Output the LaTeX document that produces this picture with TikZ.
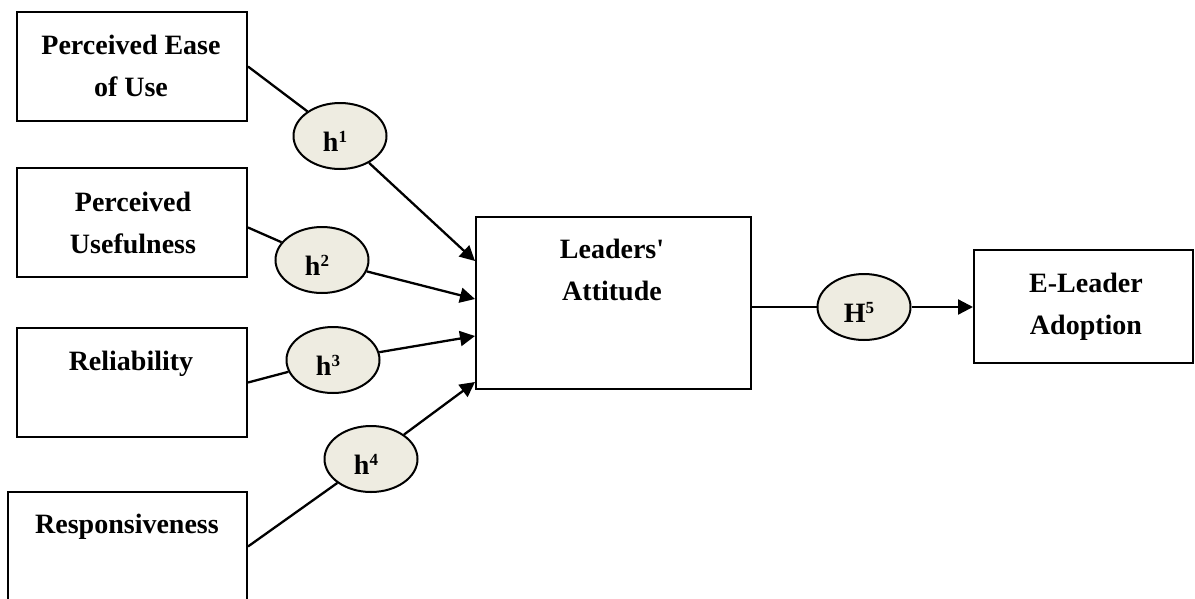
\documentclass[tikz,border=0pt]{standalone}
\usepackage{fontspec}
\setmainfont{Liberation Serif}[Ligatures=TeXOff]
\usetikzlibrary{arrows.meta,calc,shapes.geometric}
\definecolor{hypfill}{RGB}{238,236,225}
\newcommand{\hypo}[2]{#1\raisebox{9pt}{\fontsize{17}{17}\selectfont #2}\kern10pt}
\begin{document}
\begin{tikzpicture}[x=1pt,y=-1pt,
  box/.style={draw,line width=2pt,inner sep=0pt,minimum width=230pt,minimum height=109pt},
  lbl/.style={font=\fontsize{28}{42}\selectfont\bfseries,align=center,inner sep=0pt},
  hyp/.style={ellipse,draw,line width=2pt,fill=hypfill,minimum width=93pt,minimum height=66pt,
    inner sep=0pt,text height=30pt,text depth=0pt,font=\fontsize{28}{28}\selectfont\bfseries},
  conn/.style={line width=2.3pt},
  arr/.style={conn,-{Triangle[length=15pt,width=15pt]}}]
\useasboundingbox (0,0) rectangle (1195,598);
% boxes
\node[box] (b1) at (132,66.5) {};
\node[box] (b2) at (132,222.5) {};
\node[box] (b3) at (132,382.5) {};
\node[box,minimum width=239pt] (b4) at (127.5,546.5) {};
\node[box,minimum width=275pt,minimum height=172pt] (la) at (613.5,303) {};
\node[box,minimum width=219pt,minimum height=113pt] (el) at (1083.5,306.5) {};
% labels
\node[lbl] (t1) at (131,66) {Perceived Ease\\of Use};
\node[lbl] (t2) at (133,222.5) {Perceived\\Usefulness};
\node[lbl,anchor=base] (t3) at (131,370) {Reliability};
\node[lbl,anchor=base] (t4) at (127,533) {Responsiveness};
\node[lbl] (t5) at (612,269.5) {Leaders'\\Attitude};
\node[lbl] (t6) at (1086,306.5) {E-Leader\\Adoption};
% hypotheses
\node[hyp] (h1) at (340,136) {\hypo{h}{1}};
\node[hyp] (h2) at (322,260) {\hypo{h}{2}};
\node[hyp] (h3) at (333,360) {\hypo{h}{3}};
\node[hyp] (h4) at (371,459) {\hypo{h}{4}};
\node[hyp] (h5) at (864,307) {\hypo{H}{5}};
% coordinates
\coordinate (s2) at ($(b2.east)+(0,5)$);
\coordinate (a1) at ($(la.north west)+(0,45)$);
\coordinate (a2) at ($(la.north west)+(0,83)$);
\coordinate (a3) at ($(la.north west)+(0,120)$);
\coordinate (a4) at ($(la.north west)+(0,166)$);
% connectors
\draw[conn] (b1.east) -- (h1);
\draw[arr] (h1) -- (a1);
\draw[conn] (s2) -- (h2);
\draw[arr] (h2) -- (a2);
\draw[conn] (b3.east) -- (h3);
\draw[arr] (h3) -- (a3);
\draw[conn] (b4.east) -- (h4);
\draw[arr] (h4) -- (a4);
\draw[conn] (la.east |- h5) -- (h5);
\draw[arr] (h5) -- (el.west |- h5);
\end{tikzpicture}
\end{document}
